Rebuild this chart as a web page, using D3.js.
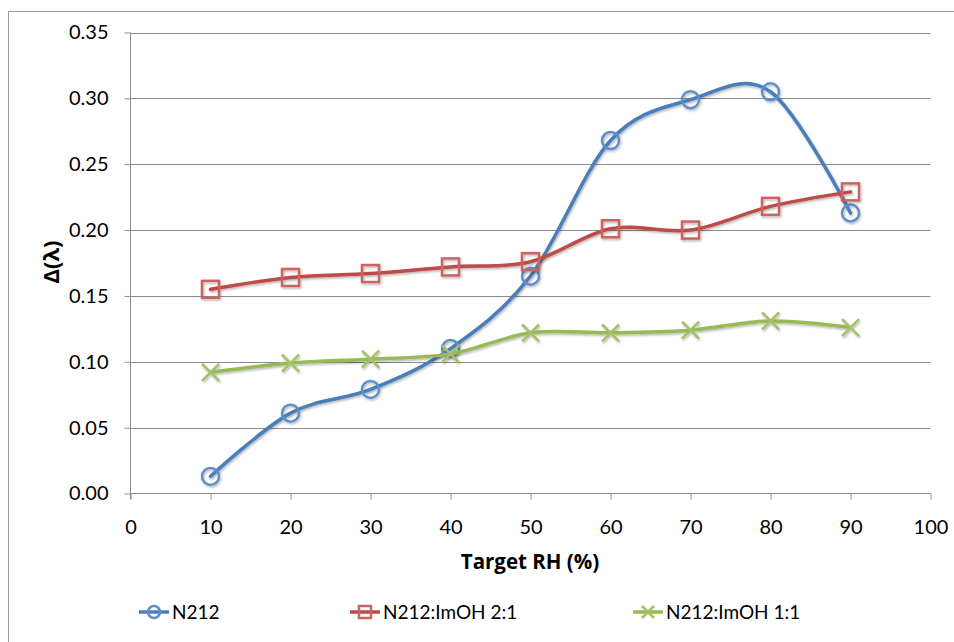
<!DOCTYPE html>
<html>
<head>
<meta charset="utf-8">
<script src="https://cdn.jsdelivr.net/npm/d3@7"></script>
<style>
  body { margin: 0; background: #fff; }
  svg { display: block; font-family: Lato, "Open Sans", sans-serif; }
</style>
</head>
<body>
<div id="chart"></div>
<script>
// data
const rh = [10, 20, 30, 40, 50, 60, 70, 80, 90];
const n212 = [0.013, 0.061, 0.079, 0.110, 0.165, 0.268, 0.299, 0.305, 0.213];
const imoh21 = [0.155, 0.164, 0.167, 0.172, 0.176, 0.201, 0.200, 0.218, 0.229];
const imoh11 = [0.092, 0.099, 0.102, 0.106, 0.122, 0.122, 0.124, 0.131, 0.126];
const xTicks = [0, 10, 20, 30, 40, 50, 60, 70, 80, 90, 100];
const yTicks = [0, 0.05, 0.10, 0.15, 0.20, 0.25, 0.30, 0.35];

const series = [
  { name: 'N212', values: n212, line: '#4a7ebb', mark: '#5f8fcb', shape: 'circle' },
  { name: 'N212:ImOH 2:1', values: imoh21, line: '#be4b48', mark: '#cc6361', shape: 'square' },
  { name: 'N212:ImOH 1:1', values: imoh11, line: '#98b954', mark: '#a3c166', shape: 'x' }
];

const width = 954, height = 642;
const gridColor = '#8c8c8c';

const svg = d3.select('#chart').append('svg')
  .attr('width', width)
  .attr('height', height);

// shadow for lines and markers
const defs = svg.append('defs');
const f = defs.append('filter').attr('id', 'shadow')
  .attr('x', '-20%').attr('y', '-20%').attr('width', '140%').attr('height', '140%');
f.append('feDropShadow')
  .attr('dx', 1).attr('dy', 1.5).attr('stdDeviation', 1)
  .attr('flood-color', '#000').attr('flood-opacity', 0.3);

// chart border
svg.append('rect')
  .attr('x', 8.5).attr('y', 11.5)
  .attr('width', 960).attr('height', 660)
  .attr('fill', 'none')
  .attr('stroke', '#9a9a9a')
  .attr('stroke-width', 1);

const x = d3.scaleLinear().domain([0, 100]).range([130.5, 930.5]);
const y = d3.scaleLinear().domain([0, 0.35]).range([493.5, 32.5]);

// gridlines
svg.append('g')
  .selectAll('line')
  .data(yTicks.slice(1))
  .join('line')
  .attr('x1', x(0)).attr('x2', x(100))
  .attr('y1', d => Math.round(y(d)) + 0.5)
  .attr('y2', d => Math.round(y(d)) + 0.5)
  .attr('stroke', gridColor);

// axes
const yAxis = d3.axisLeft(y)
  .tickValues(yTicks)
  .tickFormat(d3.format('.2f'))
  .tickSize(6)
  .tickPadding(16);
const yAxisG = svg.append('g')
  .attr('transform', `translate(${x(0)},0)`)
  .call(yAxis);

const xAxis = d3.axisBottom(x)
  .tickValues(xTicks)
  .tickFormat(d3.format('d'))
  .tickSize(6)
  .tickPadding(20);
const xAxisG = svg.append('g')
  .attr('transform', `translate(0,${y(0)})`)
  .call(xAxis);

[xAxisG, yAxisG].forEach(g => {
  g.select('.domain').remove();
  g.selectAll('.tick line').attr('stroke', gridColor);
  g.selectAll('.tick text')
    .attr('fill', '#000')
    .style('font-size', '20px')
    .style('font-family', 'Lato, sans-serif');
});
svg.append('line')
  .attr('x1', x(0)).attr('x2', x(0))
  .attr('y1', y(0.35)).attr('y2', y(0) + 6)
  .attr('stroke', gridColor);
svg.append('line')
  .attr('x1', x(0)).attr('x2', x(100))
  .attr('y1', y(0)).attr('y2', y(0))
  .attr('stroke', gridColor);

// axis titles
svg.append('text')
  .attr('x', 530).attr('y', 569)
  .attr('text-anchor', 'middle')
  .style('font-family', '"Open Sans", sans-serif')
  .style('font-size', '20.5px')
  .style('font-weight', 'bold')
  .text('Target RH (%)');

svg.append('text')
  .attr('transform', 'translate(59,262) rotate(-90)')
  .attr('text-anchor', 'middle')
  .style('font-family', '"Open Sans", sans-serif')
  .style('font-size', '22px')
  .style('font-weight', 'bold')
  .text('Δ(λ)');

// markers
function drawMarker(g, shape, cx, cy, size, color) {
  const h = size / 2;
  if (shape === 'circle') {
    g.append('circle').attr('cx', cx).attr('cy', cy).attr('r', h)
      .attr('fill', 'none').attr('stroke', color).attr('stroke-width', 2.5);
  } else if (shape === 'square') {
    g.append('rect').attr('x', cx - h).attr('y', cy - h)
      .attr('width', size).attr('height', size)
      .attr('fill', 'none').attr('stroke', color).attr('stroke-width', 2.5);
  } else {
    g.append('path')
      .attr('d', `M${cx - h},${cy - h}L${cx + h},${cy + h}M${cx - h},${cy + h}L${cx + h},${cy - h}`)
      .attr('stroke', color).attr('stroke-width', 2.5);
  }
}

const line = d3.line()
  .x(d => x(d[0]))
  .y(d => y(d[1]))
  .curve(d3.curveCardinal.tension(0));

series.forEach(s => {
  const pts = rh.map((r, i) => [r, s.values[i]]);
  const g = svg.append('g').attr('filter', 'url(#shadow)');
  g.append('path')
    .datum(pts)
    .attr('d', line)
    .attr('fill', 'none')
    .attr('stroke', s.line)
    .attr('stroke-width', 3.5)
    .attr('stroke-linecap', 'round');
  pts.forEach(p => drawMarker(g, s.shape, x(p[0]), y(p[1]), 17, s.mark));
});

// legend
const legendX = [139, 350, 633];
series.forEach((s, i) => {
  const lg = svg.append('g');
  const x0 = legendX[i];
  lg.append('line')
    .attr('x1', x0).attr('x2', x0 + 30)
    .attr('y1', 612).attr('y2', 612)
    .attr('stroke', s.line).attr('stroke-width', 3.5);
  drawMarker(lg, s.shape, x0 + 15, 612, 12, s.mark);
  lg.append('text')
    .attr('x', x0 + 33).attr('y', 619)
    .style('font-size', '19px')
    .text(s.name);
});
</script>
</body>
</html>
